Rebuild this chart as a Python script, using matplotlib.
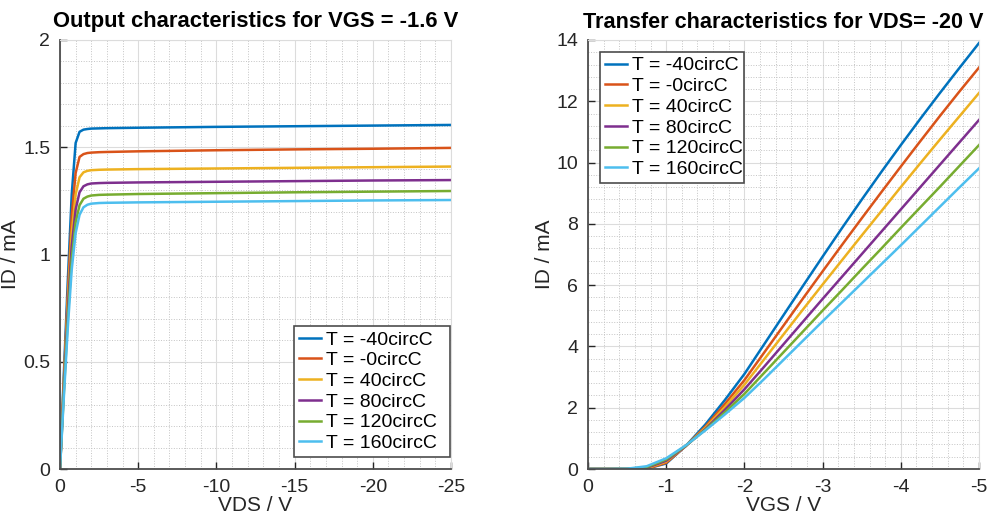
import matplotlib
matplotlib.use("Agg")
import matplotlib.pyplot as plt
from matplotlib.ticker import MultipleLocator, FixedLocator, FixedFormatter

plt.rcParams['font.family'] = ['Liberation Sans', 'DejaVu Sans']
plt.rcParams['axes.unicode_minus'] = False

# ---------------- data ----------------
temps = ["T = -40circC", "T = -0circC", "T = 40circC", "T = 80circC", "T = 120circC", "T = 160circC"]
colors = ["#0072BD", "#D95319", "#EDB120", "#7E2F8E", "#77AC30", "#4DBEEE"]

# Output characteristics (VGS = -1.6 V)
vds = [0, -0.25, -0.5, -0.75, -1.0, -1.25, -1.5, -1.75, -2.0, -2.5, -3, -5, -10, -15, -20, -25]
id_out_m40 = [0, 0.45, 0.88, 1.28, 1.52, 1.572, 1.582, 1.585, 1.587, 1.588, 1.589, 1.591, 1.595, 1.598, 1.601, 1.604]
id_out_0 = [0, 0.42, 0.82, 1.18, 1.38, 1.455, 1.468, 1.473, 1.475, 1.477, 1.478, 1.481, 1.486, 1.490, 1.493, 1.497]
id_out_40 = [0, 0.40, 0.78, 1.10, 1.28, 1.36, 1.383, 1.39, 1.393, 1.395, 1.396, 1.398, 1.401, 1.404, 1.407, 1.41]
id_out_80 = [0, 0.38, 0.74, 1.04, 1.21, 1.29, 1.318, 1.327, 1.331, 1.333, 1.334, 1.336, 1.339, 1.342, 1.345, 1.347]
id_out_120 = [0, 0.36, 0.70, 0.98, 1.15, 1.23, 1.26, 1.27, 1.275, 1.278, 1.279, 1.282, 1.286, 1.29, 1.293, 1.296]
id_out_160 = [0, 0.34, 0.66, 0.93, 1.10, 1.185, 1.22, 1.232, 1.237, 1.24, 1.241, 1.243, 1.246, 1.249, 1.252, 1.254]
id_out = [id_out_m40, id_out_0, id_out_40, id_out_80, id_out_120, id_out_160]

# Transfer characteristics (VDS = -20 V)
vgs = [0, -0.25, -0.5, -0.75, -1.0, -1.25, -1.5, -1.75, -2.0, -2.25, -2.5, -2.75, -3.0,
       -3.25, -3.5, -3.75, -4.0, -4.25, -4.5, -4.75, -5.0]
id_tr_m40 = [0, 0, 0, 0.01, 0.18, 0.75, 1.45, 2.25, 3.1, 4.06, 5.02, 5.98, 6.93, 7.87, 8.79, 9.69, 10.57, 11.43, 12.27, 13.09, 13.9]
id_tr_0 = [0, 0, 0, 0.01, 0.2, 0.75, 1.38, 2.12, 2.9, 3.79, 4.68, 5.57, 6.45, 7.32, 8.18, 9.03, 9.87, 10.70, 11.52, 12.32, 13.1]
id_tr_40 = [0, 0, 0, 0.02, 0.24, 0.75, 1.34, 2.02, 2.75, 3.57, 4.39, 5.21, 6.02, 6.82, 7.62, 8.41, 9.2, 9.98, 10.75, 11.51, 12.27]
id_tr_80 = [0, 0, 0, 0.04, 0.27, 0.75, 1.3, 1.93, 2.6, 3.33, 4.07, 4.81, 5.55, 6.28, 7.01, 7.74, 8.47, 9.2, 9.93, 10.66, 11.39]
id_tr_120 = [0, 0, 0.005, 0.06, 0.31, 0.76, 1.28, 1.85, 2.45, 3.13, 3.81, 4.49, 5.17, 5.84, 6.52, 7.19, 7.87, 8.54, 9.21, 9.89, 10.57]
id_tr_160 = [0, 0, 0.01, 0.09, 0.35, 0.77, 1.26, 1.78, 2.32, 2.93, 3.56, 4.19, 4.82, 5.44, 6.06, 6.68, 7.3, 7.93, 8.56, 9.19, 9.81]
id_tr = [id_tr_m40, id_tr_0, id_tr_40, id_tr_80, id_tr_120, id_tr_160]

x1_ticks = [0, -5, -10, -15, -20, -25]
x1_labels = ["0", "-5", "-10", "-15", "-20", "-25"]
y1_ticks = [0, 0.5, 1, 1.5, 2]
y1_labels = ["0", "0.5", "1", "1.5", "2"]
x2_ticks = [0, -1, -2, -3, -4, -5]
x2_labels = ["0", "-1", "-2", "-3", "-4", "-5"]
y2_ticks = [0, 2, 4, 6, 8, 10, 12, 14]
y2_labels = ["0", "2", "4", "6", "8", "10", "12", "14"]

# ---------------- figure ----------------
fig = plt.figure(figsize=(9.89, 5.26), dpi=100)
ax1 = fig.add_axes([60 / 989, 1 - 469 / 526, 391 / 989, 429 / 526])
ax2 = fig.add_axes([588 / 989, 1 - 469 / 526, 391 / 989, 429 / 526])

TXT = "#262626"


def style(ax, xt, xl, yt, yl, xminor, yminor):
    ax.set_axisbelow(True)
    ax.xaxis.set_major_locator(FixedLocator(xt))
    ax.xaxis.set_major_formatter(FixedFormatter(xl))
    ax.yaxis.set_major_locator(FixedLocator(yt))
    ax.yaxis.set_major_formatter(FixedFormatter(yl))
    ax.xaxis.set_minor_locator(MultipleLocator(xminor))
    ax.yaxis.set_minor_locator(MultipleLocator(yminor))
    ax.grid(which='major', color='#dcdcdc', linestyle='-', linewidth=0.8)
    ax.grid(which='minor', color='#c4c4c4', linestyle=':', linewidth=0.7)
    ax.tick_params(which='major', direction='in', length=5, width=1, colors=TXT,
                   labelsize=14, top=False, right=False, pad=7)
    ax.tick_params(which='minor', length=0)
    for s in ['left', 'bottom']:
        ax.spines[s].set_color('#4d4d4d')
        ax.spines[s].set_linewidth(1.3)
    for s in ['top', 'right']:
        ax.spines[s].set_color('#dcdcdc')
        ax.spines[s].set_linewidth(0.8)


def legend(ax, **kw):
    lg = ax.legend(borderaxespad=0, fontsize=14, handlelength=1.15, handletextpad=0.25,
                   labelspacing=0.16, borderpad=0.25, fancybox=False, framealpha=1,
                   edgecolor='#4d4d4d', mode='expand', **kw)
    lg.get_frame().set_linewidth(1.2)
    return lg


for ys, c, lab in zip(id_out, colors, temps):
    ax1.plot(vds, ys, color=c, lw=1.8, label=lab)
ax1.set_xlim(0, -25)
ax1.set_ylim(0, 2)
style(ax1, x1_ticks, x1_labels, y1_ticks, y1_labels, 1, 0.1)
ax1.set_xlabel("VDS / V", fontsize=15, color=TXT, labelpad=0)
ax1.set_ylabel("ID / mA", fontsize=15, color=TXT, labelpad=2)
ax1.set_title("Output characteristics for VGS = -1.6 V", fontsize=15.8, fontweight='bold', pad=9)
legend(ax1, loc='lower left', bbox_to_anchor=(0.598, 0.028, 0.399, 0.5))

for ys, c, lab in zip(id_tr, colors, temps):
    ax2.plot(vgs, ys, color=c, lw=1.8, label=lab)
ax2.set_xlim(0, -5)
ax2.set_ylim(0, 14)
style(ax2, x2_ticks, x2_labels, y2_ticks, y2_labels, 0.2, 0.4)
ax2.set_xlabel("VGS / V", fontsize=15, color=TXT, labelpad=0)
ax2.set_ylabel("ID / mA", fontsize=15, color=TXT, labelpad=2)
ax2.set_title("Transfer characteristics for VDS= -20 V", fontsize=15.6, fontweight='bold', pad=9)
legend(ax2, loc='upper left', bbox_to_anchor=(0.031, 0.5, 0.368, 0.472))

fig.savefig("out.png", dpi=100)
